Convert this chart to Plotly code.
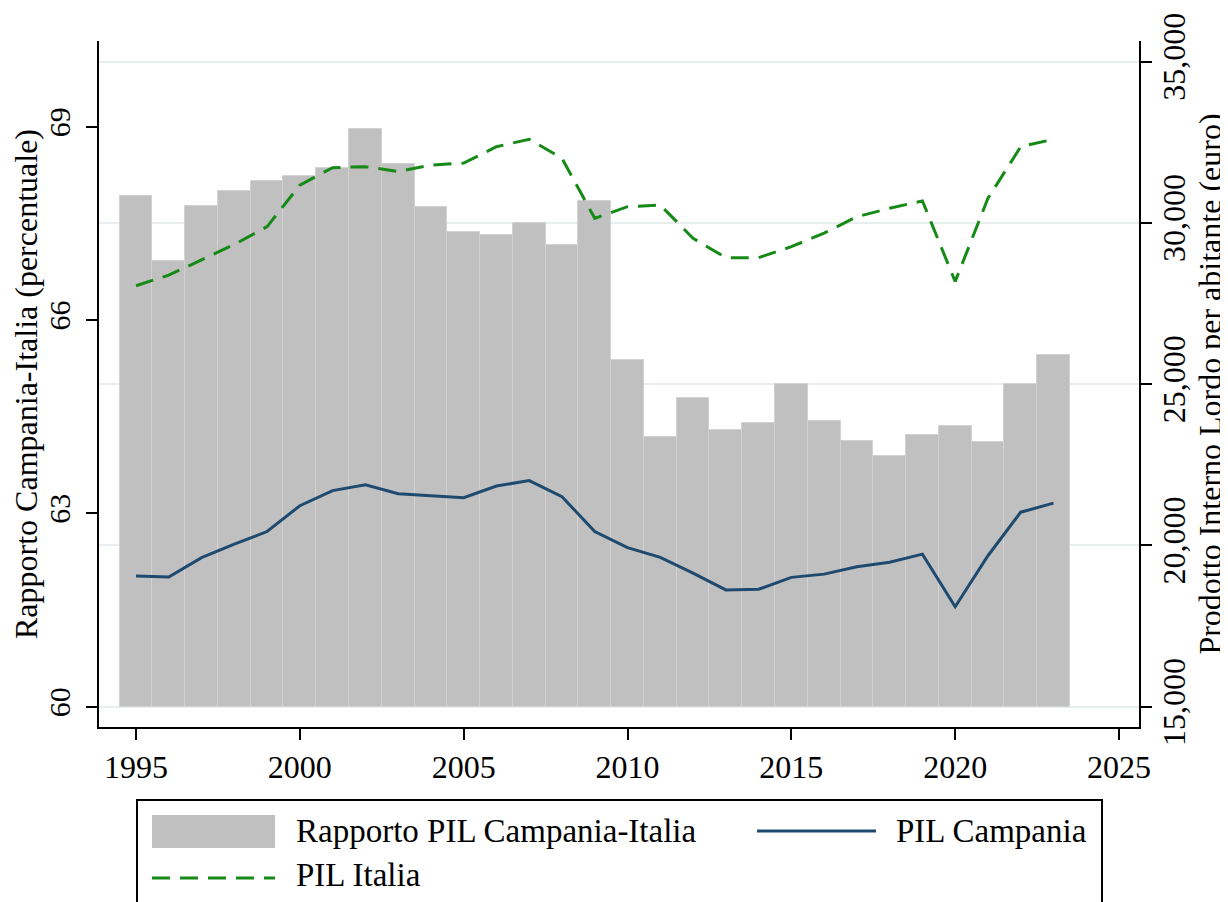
import plotly.graph_objects as go

# Dati
anni = list(range(1995, 2024))
rapporto = [67.93, 66.92, 67.77, 68.01, 68.15, 68.24, 68.36, 68.96, 68.42, 67.75,
            67.36, 67.32, 67.50, 67.17, 67.84, 65.38, 64.18, 64.79, 64.29, 64.40,
            65.01, 64.44, 64.12, 63.89, 64.21, 64.36, 64.10, 65.01, 65.46]
pil_campania = [19050, 19020, 19620, 20040, 20430, 21230, 21700, 21880, 21600, 21550,
                21480, 21840, 22010, 21510, 20430, 19930, 19630, 19140, 18620, 18640,
                19010, 19110, 19340, 19480, 19730, 18100, 19680, 21030, 21310]
pil_italia = [28050, 28380, 28850, 29330, 29880, 31170, 31710, 31740, 31590, 31790,
              31850, 32360, 32590, 32000, 30140, 30500, 30550, 29520, 28920, 28920,
              29260, 29680, 30190, 30450, 30680, 28180, 30760, 32360, 32590]

BASE = 60
GRIGIO = '#c0c0c0'
BLU = '#1f4a70'
VERDE = '#168a16'
DASH = '18px,10px'
FONT = 'Liberation Serif'

fig = go.Figure()
fig.add_trace(go.Bar(x=anni, y=[v - BASE for v in rapporto], base=BASE, width=1,
                     marker=dict(color=GRIGIO, line=dict(color='#d2d2d2', width=1)),
                     name='Rapporto PIL Campania-Italia', yaxis='y'))
fig.add_trace(go.Scatter(x=anni, y=pil_campania, mode='lines', name='PIL Campania',
                         line=dict(color=BLU, width=3), yaxis='y2'))
fig.add_trace(go.Scatter(x=anni, y=pil_italia, mode='lines', name='PIL Italia',
                         line=dict(color=VERDE, width=3, dash=DASH), yaxis='y2'))

# Legenda disegnata a mano (stile Stata); coordinate in pixel della pagina
def px_x(p):
    return (p - 99) / 1040

def px_y(p):
    return (727 - p) / 686

shapes = [
    dict(type='rect', xref='paper', yref='paper', x0=px_x(137), x1=px_x(1102),
         y0=px_y(800), y1=px_y(960), line=dict(color='black', width=2), fillcolor='white'),
    dict(type='rect', xref='paper', yref='paper', x0=px_x(152), x1=px_x(275),
         y0=px_y(815), y1=px_y(848), line=dict(width=0), fillcolor=GRIGIO),
    dict(type='line', xref='paper', yref='paper', x0=px_x(757), x1=px_x(876),
         y0=px_y(831), y1=px_y(831), line=dict(color=BLU, width=3)),
    dict(type='line', xref='paper', yref='paper', x0=px_x(152), x1=px_x(275),
         y0=px_y(878), y1=px_y(878), line=dict(color=VERDE, width=3, dash=DASH)),
]
voci = [('Rapporto PIL Campania-Italia', 294, 831), ('PIL Campania', 894, 831),
        ('PIL Italia', 294, 875)]
annotations = [dict(text=t, xref='paper', yref='paper', x=px_x(xp), y=px_y(yp),
                    xanchor='left', yanchor='middle', showarrow=False,
                    font=dict(family=FONT, size=33, color='black'))
               for t, xp, yp in voci]

# la pagina ha un margine di 8px: la figura è un po' più piccola della finestra
fig.update_layout(
    width=1220, height=894,
    margin=dict(l=91, r=89, t=33, b=175),
    paper_bgcolor='white', plot_bgcolor='white',
    font=dict(family=FONT, size=30, color='black'),
    showlegend=False, bargap=0,
    shapes=shapes, annotations=annotations,
    xaxis=dict(range=[1993.87, 2025.61], tickvals=list(range(1995, 2030, 5)),
               ticks='outside', ticklen=11, tickwidth=1.5, tickcolor='black',
               showline=True, linecolor='black', linewidth=2, showgrid=False,
               zeroline=False, tickfont=dict(size=32), automargin=False),
    yaxis=dict(range=[59.685, 70.33], tickvals=[60, 63, 66, 69], tickangle=-90,
               ticks='outside', ticklen=11, tickwidth=1.5, tickcolor='black',
               showline=True, linecolor='black', linewidth=2, showgrid=False,
               zeroline=False, tickfont=dict(size=30), automargin=False,
               ticklabelstandoff=4,
               title=dict(text='Rapporto Campania-Italia (percentuale)',
                          font=dict(size=32), standoff=6)),
    yaxis2=dict(range=[14371, 35636], tickvals=[15000, 20000, 25000, 30000, 35000],
                tickformat=',', overlaying='y', side='right', tickangle=-90,
                ticks='outside', ticklen=11, tickwidth=1.5, tickcolor='black',
                showline=True, linecolor='black', linewidth=2,
                showgrid=True, gridcolor='#e8eef0', gridwidth=2,
                zeroline=False, tickfont=dict(size=32), automargin=False,
                ticklabelstandoff=-5,
                title=dict(text='Prodotto Interno Lordo per abitante (euro)',
                           font=dict(size=32), standoff=2)),
)

fig.write_html("out.html")
